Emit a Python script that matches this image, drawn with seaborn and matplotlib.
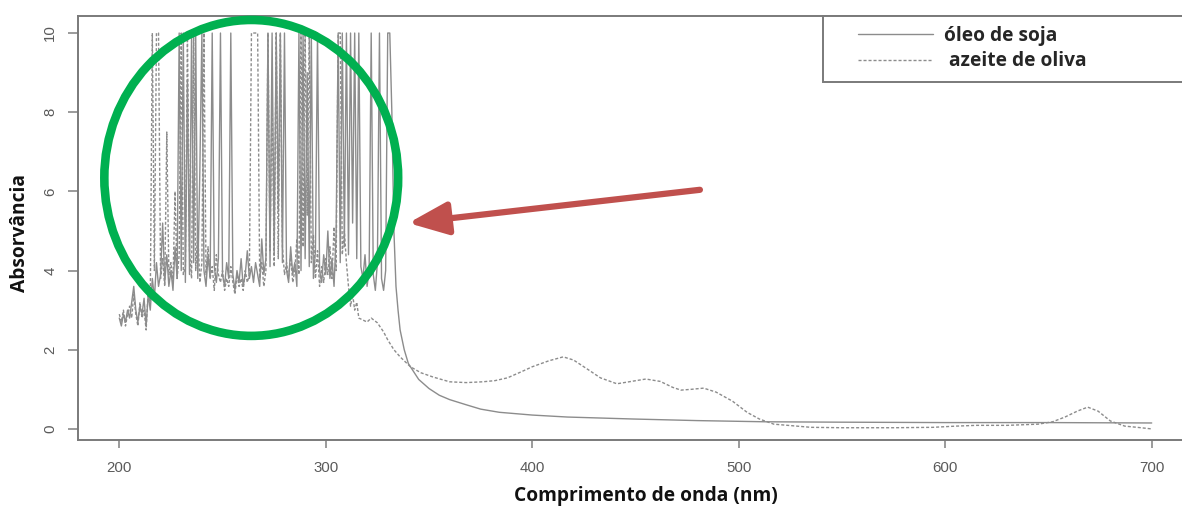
import numpy as np
import matplotlib
matplotlib.use('Agg')
import matplotlib.pyplot as plt
from matplotlib.patches import Ellipse, Rectangle
from matplotlib.lines import Line2D
import seaborn as sns

sns.set_style('ticks')
plt.rcParams['font.family'] = ['Liberation Sans', 'DejaVu Sans']

# óleo de soja (linha cheia)
soja_nm = list(range(200, 337)) + [338, 340, 345, 350, 355, 360, 368, 375, 384, 400,
                                   417, 449, 480, 513, 550, 600, 650, 700]
soja_abs = [
    2.8, 2.6, 2.9, 2.7, 3.0, 2.8, 3.2, 3.6, 3.0, 2.7,   # 200-209
    3.1, 2.9, 3.3, 2.6, 3.4, 3.0, 3.8, 3.3, 4.2, 3.6,   # 210-219
    3.9, 5.2, 3.7, 4.4, 3.6, 4.0, 3.5, 4.6, 3.8, 10,    # 220-229
    4.0, 10, 3.7, 8.8, 3.9, 10, 4.2, 10, 3.8, 6.5,      # 230-239
    10, 4.0, 3.6, 4.4, 3.8, 10, 4.1, 3.7, 4.3, 10,      # 240-249
    3.9, 3.6, 4.2, 3.8, 10, 3.9, 3.5, 4.0, 3.7, 4.3,    # 250-259
    3.6, 3.9, 4.5, 3.8, 4.1, 3.7, 4.2, 3.9, 3.6, 4.8,   # 260-269
    3.9, 4.3, 10, 4.1, 10, 4.4, 10, 5.5, 10, 4.2,       # 270-279
    10, 4.0, 3.7, 4.6, 3.9, 4.2, 3.6, 10, 4.0, 10,      # 280-289
    4.3, 9.0, 4.1, 10, 3.8, 4.5, 10, 4.0, 3.7, 4.4,     # 290-299
    3.9, 5.0, 3.8, 4.3, 3.6, 4.9, 10, 4.2, 10, 4.6,     # 300-309
    10, 4.4, 10, 5.2, 10, 4.3, 10, 4.1, 3.8, 4.4,       # 310-319
    3.6, 4.0, 10, 3.9, 3.5, 4.2, 10, 3.8, 3.5, 4.0,     # 320-329
    10, 10, 8.0, 5.0, 3.6, 3.0, 2.5,                    # 330-336
    2.0, 1.65, 1.25, 1.02, 0.85, 0.74, 0.61, 0.5, 0.42, 0.35,
    0.3, 0.25, 0.21, 0.18, 0.17, 0.16, 0.16, 0.15,
]

# azeite de oliva (linha tracejada)
oliva_nm = list(range(200, 317)) + [318, 320, 322, 325, 328, 330, 333, 336, 341, 346,
                                    352, 360, 368, 376, 382, 388, 395, 400, 408, 415,
                                    420, 427, 433, 441, 448, 455, 462, 468, 472, 477,
                                    483, 489, 497, 504, 510, 517, 526, 535, 550, 575,
                                    594, 605, 615, 630, 645, 652, 658, 664, 669, 674,
                                    680, 687, 693, 700]
oliva_abs = [
    2.9, 2.7, 3.0, 2.6, 2.9, 3.1, 2.8, 3.4, 2.9, 2.6,   # 200-209
    3.2, 2.8, 3.0, 2.5, 3.5, 3.2, 10, 4.0, 10, 10,      # 210-219
    3.8, 4.3, 3.6, 7.5, 3.9, 4.2, 3.7, 6.0, 3.8, 4.4,   # 220-229
    10, 3.9, 4.1, 10, 4.5, 3.8, 10, 4.0, 5.0, 3.7,      # 230-239
    4.2, 10, 3.9, 4.6, 3.8, 4.1, 3.5, 4.4, 3.9, 3.7,    # 240-249
    4.0, 3.5, 3.8, 3.6, 4.1, 3.7, 3.4, 3.9, 3.6, 3.8,   # 250-259
    3.5, 4.0, 3.7, 3.9, 10, 10, 10, 10, 3.8, 4.2,       # 260-269
    3.6, 4.0, 10, 4.5, 8.5, 4.1, 10, 4.3, 10, 4.6,      # 270-279
    3.9, 4.2, 3.8, 4.4, 3.7, 4.0, 4.8, 3.9, 10, 4.6,    # 280-289
    10, 5.4, 10, 4.2, 4.9, 3.8, 4.5, 3.6, 4.1, 3.7,     # 290-299
    4.3, 3.9, 4.6, 3.8, 5.1, 4.0, 10, 10, 4.4, 5.0,     # 300-309
    4.2, 3.6, 3.1, 3.4, 3.0, 3.2, 2.8,                  # 310-316
    2.75, 2.7, 2.8, 2.68, 2.45, 2.25, 2.0, 1.82, 1.57, 1.42,
    1.31, 1.19, 1.17, 1.19, 1.22, 1.29, 1.45, 1.57, 1.72, 1.82,
    1.74, 1.5, 1.29, 1.14, 1.2, 1.26, 1.2, 1.05, 0.98, 1.0,
    1.03, 0.93, 0.7, 0.42, 0.25, 0.12, 0.08, 0.04, 0.03, 0.03,
    0.04, 0.07, 0.09, 0.09, 0.12, 0.18, 0.3, 0.45, 0.55, 0.45,
    0.2, 0.07, 0.04, 0.0,
]

x_ticks = [200, 300, 400, 500, 600, 700]
y_ticks = [0, 2, 4, 6, 8, 10]

W, H = 1182, 512
fig = plt.figure(figsize=(W / 100, H / 100), dpi=100)
# axes box: left px 78, right px 1193 (off the crop), top px 16, bottom px 440
AX_L, AX_R, AX_T, AX_B = 78, 1193, 16, 440
ax = fig.add_axes([AX_L / W, (H - AX_B) / H, (AX_R - AX_L) / W, (AX_B - AX_T) / H])

def ax_x(px):
    return (px - AX_L) / (AX_R - AX_L)

def ax_y(py):
    return (AX_B - py) / (AX_B - AX_T)

line_col = '#8c8c8c'
dash = (0, (2.2, 1.4))
sns.lineplot(x=soja_nm, y=soja_abs, ax=ax, color=line_col, lw=1.0,
             estimator=None, sort=False)
sns.lineplot(x=oliva_nm, y=oliva_abs, ax=ax, color=line_col, lw=1.0,
             linestyle=dash, estimator=None, sort=False)

ax.set_xlim(180, 720)
ax.set_ylim(-0.28, 10.43)
ax.set_xticks(x_ticks)
ax.set_yticks(y_ticks)
ax.set_xticklabels([str(v) for v in x_ticks])
ax.set_yticklabels([str(v) for v in y_ticks], rotation=90, va='center')

for s in ['top', 'left', 'bottom']:
    ax.spines[s].set_color('#7a7a7a')
    ax.spines[s].set_linewidth(1.4)
ax.spines['right'].set_visible(False)
ax.tick_params(axis='both', colors='#8a8a8a', labelcolor='#5a5a5a',
               labelsize=10.8, width=1.2)
ax.tick_params(axis='x', length=6, pad=9)
ax.tick_params(axis='y', length=7, pad=8)

bold_font = ['Open Sans', 'DejaVu Sans']
ax.set_xlabel('Comprimento de onda (nm)', fontsize=13.8, fontweight='bold',
              family=bold_font, color='#111111')
ax.xaxis.set_label_coords(ax_x(646), ax_y(486))
ax.set_ylabel('')
fig.text(20 / W, 1 - 233 / H, 'Absorvância', rotation=90, ha='center', va='center',
         fontsize=13.8, fontweight='bold', family=bold_font, color='#111111')

# legend (frame drawn separately so it runs off the right edge like the crop)
frame = Rectangle((ax_x(823), ax_y(82)), ax_x(1240) - ax_x(823), ax_y(16) - ax_y(82),
                  transform=ax.transAxes, fill=True, facecolor='white',
                  edgecolor='#7a7a7a', lw=1.4, clip_on=False, zorder=4)
ax.add_patch(frame)
handles = [Line2D([], [], color=line_col, lw=1.0),
           Line2D([], [], color=line_col, lw=1.0, linestyle=dash)]
leg = ax.legend(handles, ['óleo de soja', ' azeite de oliva'],
                loc='upper left', bbox_to_anchor=(ax_x(858), ax_y(26)),
                borderaxespad=0, borderpad=0, frameon=False,
                handlelength=3.9, handletextpad=0.6, labelspacing=0.28,
                prop={'family': bold_font, 'weight': 'bold', 'size': 13.8})
leg.set_zorder(5)

# green ellipse highlighting the noisy region
ell = Ellipse((263.9, 6.34), 142.3, 7.98, fill=False, edgecolor='#00b050',
              lw=6.2, clip_on=False, zorder=6)
ax.add_patch(ell)

# red arrow pointing at the ellipse
ax.annotate('', xy=(340.0, 5.2), xytext=(481.2, 6.04),
            arrowprops=dict(arrowstyle='-|>,head_length=1.2,head_width=0.5',
                            color='#c0504d', lw=4.5, mutation_scale=20,
                            shrinkA=0, shrinkB=0),
            zorder=7, annotation_clip=False)

fig.savefig('out.png', dpi=100)
